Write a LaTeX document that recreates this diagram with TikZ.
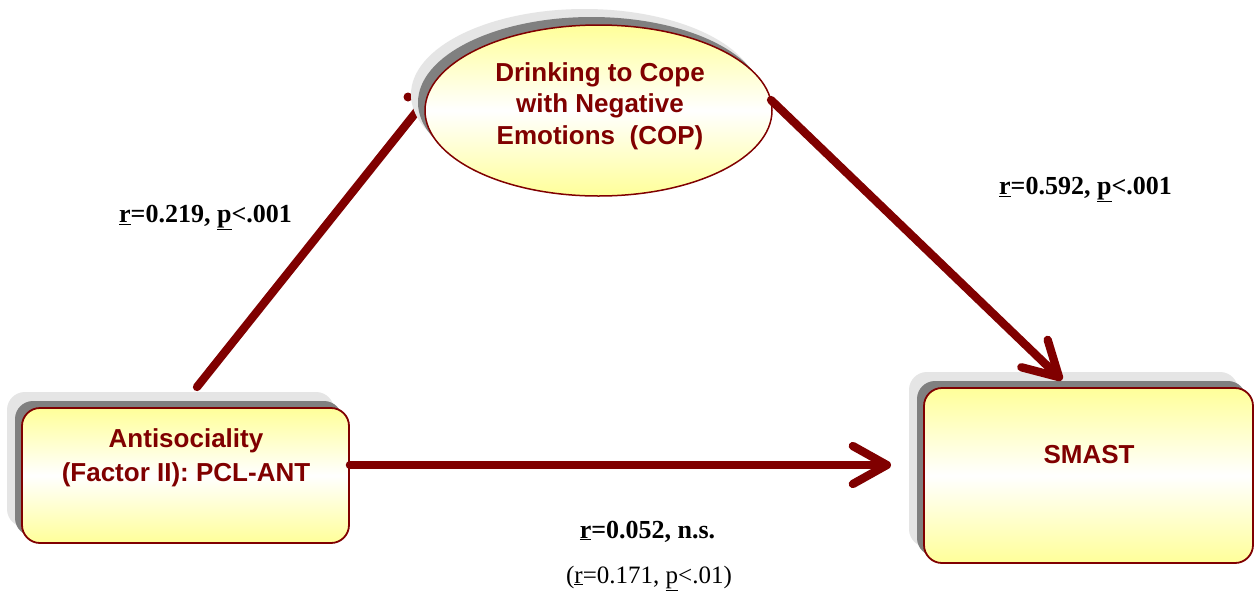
\documentclass[tikz,border=0pt]{standalone}
\usepackage{fontspec}
\setmainfont{Liberation Serif}
\newfontfamily\sansb{Liberation Sans}
\usetikzlibrary{arrows.meta,shapes.geometric,calc}
\definecolor{arr}{RGB}{128,0,0}
\definecolor{ylw}{RGB}{255,255,153}
\definecolor{shd}{RGB}{128,128,128}
\definecolor{shl}{RGB}{229,229,229}
\begin{document}
\begin{tikzpicture}[x=1pt,y=-1pt,
  conn/.style={draw=arr, line width=8.3pt, line cap=round, line join=round},
  tipped/.style={conn, -{Straight Barb[length=34pt,width=38pt,round]}},
  lab/.style={font=\fontsize{26}{30}\selectfont\bfseries, anchor=base, inner sep=0},
  labn/.style={font=\fontsize{25}{30}\selectfont, anchor=base, inner sep=0},
  grad/.style={top color=ylw, bottom color=ylw, middle color=white},
  ntext/.style={font=\sansb\bfseries\fontsize{26}{34}\selectfont, text=arr, align=center, inner sep=0},
  lbox/.style={rectangle, rounded corners=18pt, minimum width=327pt, minimum height=135pt, inner sep=0},
  rbox/.style={rectangle, rounded corners=18pt, minimum width=329pt, minimum height=175pt, inner sep=0},
  ell/.style={ellipse, minimum width=347pt, minimum height=171pt, inner sep=0},
  outl/.style={draw=arr, line width=1.8pt, grad}
]
\fill[white] (0,0) rectangle (1254,590);
\useasboundingbox (0,0) rectangle (1254,590);

% left connector (under the ellipse shadow)
\coordinate (la) at (197,387);
\coordinate (lb) at (421,106);
\coordinate (ld) at (408,97);
\draw[conn] (la) -- (lb);
\fill[arr] (ld) circle (4.5pt);

% ellipse
\node[ell, fill=shl] (copL) at (584.5,94.5) {};
\node[ell, fill=shd] (copD) at (591.5,102.5) {};
\node[ell, outl, line width=1.5pt] (cop) at (598.5,110.5) {};
\node[ntext, font=\sansb\bfseries\fontsize{26}{31.5}\selectfont] (copT) at (600,106) {Drinking to Cope\\with Negative\\Emotions~~(COP)};

% left box
\node[lbox, fill=shl] (antL) at (170.5,459.5) {};
\node[lbox, fill=shd] (antD) at (178.5,468.5) {};
\node[lbox, outl] (ant) at (185.5,475.5) {};
\node[ntext] (antT) at (186,457.5) {Antisociality\\(Factor II): PCL-ANT};

% right box
\node[rbox, fill=shl] (smL) at (1073.5,459.5) {};
\node[rbox, fill=shd] (smD) at (1081.5,468.5) {};
\node[rbox, outl] (sm) at (1088.5,475.5) {};
\node[ntext] (smT) at (1089,455) {SMAST};

% connectors with arrowheads
\coordinate (ra) at (771,100);
\coordinate (rb) at (1062,380);
\draw[tipped] (ra) -- (rb);
\coordinate (ba) at ($(ant.east)+(0,-10.5)$);
\coordinate (bb) at (891,465);
\draw[tipped] (ba) -- (bb);

% labels
\node[lab] (l1) at (205.5,222.5) {\underline{r}=0.219, \underline{p}<.001};
\node[lab] (l2) at (1085.5,194.7) {\underline{r}=0.592, \underline{p}<.001};
\node[lab] (l3) at (647.5,538) {\underline{r}=0.052, n.s.};
\node[labn] (l4) at (649,583) {(\underline{r}=0.171, \underline{p}<.01)};
\end{tikzpicture}
\end{document}
